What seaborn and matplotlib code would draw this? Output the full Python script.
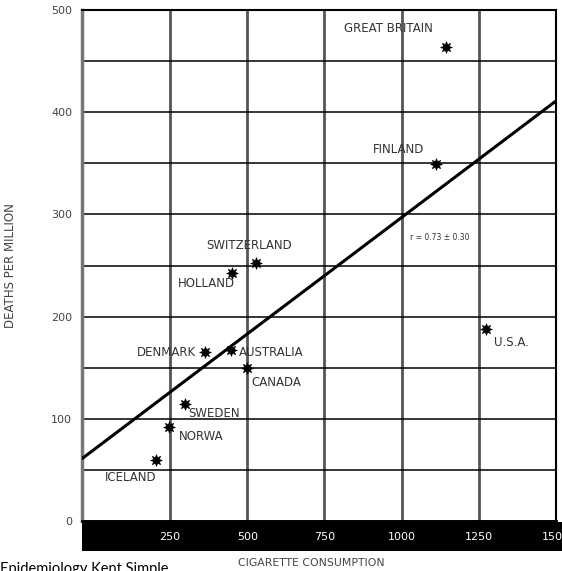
import matplotlib
matplotlib.use("Agg")
import matplotlib.pyplot as plt
import seaborn as sns
import pandas as pd
from matplotlib.patches import Rectangle

# data
countries = ['ICELAND', 'NORWA', 'SWEDEN', 'DENMARK', 'AUSTRALIA', 'HOLLAND',
             'CANADA', 'SWITZERLAND', 'FINLAND', 'GREAT BRITAIN', 'U.S.A.']
consumption = [204, 247, 299, 363, 447, 450, 499, 529, 1110, 1143, 1273]
deaths = [60, 92, 114, 165, 167, 243, 150, 252, 349, 464, 188]

# regression line ends
line_x = [-35, 1500]
line_y = [61, 411]

x_ticks = [250, 500, 750, 1000, 1250, 1500]
y_ticks = [0, 100, 200, 300, 400, 500]

df = pd.DataFrame({'country': countries, 'consumption': consumption, 'deaths': deaths})
line_df = pd.DataFrame({'x': line_x, 'y': line_y})

sns.set_style('white')
plt.rcParams['font.family'] = ['DejaVu Sans']

fig = plt.figure(figsize=(5.62, 5.71), dpi=100)
ax = fig.add_axes([82 / 562, 1 - 521 / 571, (556 - 82) / 562, (521 - 10) / 571])

# 网格
ax.set_xlim(-35, 1500)
ax.set_ylim(0, 500)
ax.set_xticks(x_ticks)
ax.set_yticks(y_ticks)
ax.set_yticks([50, 150, 250, 350, 450], minor=True)
ax.grid(axis='y', which='both', color='black', linewidth=1.1)
ax.grid(axis='x', which='major', color='#555555', linewidth=2)
ax.set_axisbelow(True)

sns.lineplot(data=line_df, x='x', y='y', color='black', linewidth=2.2, ax=ax, zorder=3)
sns.scatterplot(data=df, x='consumption', y='deaths', marker=(8, 1, 0), s=70,
                color='black', edgecolor='black', linewidth=0.5, ax=ax, zorder=4)

# label offsets (pixels) from each point
offsets = {
    'ICELAND': (-25, -18), 'NORWA': (32, -10), 'SWEDEN': (29, -9),
    'DENMARK': (-38, 0), 'AUSTRALIA': (40, -2), 'HOLLAND': (-25, -11),
    'CANADA': (29, -15), 'SWITZERLAND': (-7, 18), 'FINLAND': (-37, 15),
    'GREAT BRITAIN': (-57, 18), 'U.S.A.': (26, -14),
}
for c, xv, yv in zip(countries, consumption, deaths):
    dx, dy = offsets[c]
    ax.annotate(c, (xv, yv), xytext=(dx * 0.72, dy * 0.72), textcoords='offset points',
                ha='center', va='center', fontsize=8.5, color='#333333', zorder=5)

ax.text(1123, 277, 'r = 0.73 \u00b1 0.30', fontsize=5.5, color='#333333', ha='center', va='center')

for s in ['top', 'right']:
    ax.spines[s].set_color('black')
    ax.spines[s].set_linewidth(1.5)
ax.spines['left'].set_color('#777777')
ax.spines['left'].set_linewidth(2.5)
ax.spines['bottom'].set_color('black')
ax.spines['bottom'].set_linewidth(2)

ax.tick_params(axis='x', length=0, pad=8, labelsize=8, labelcolor='white')
ax.tick_params(axis='y', length=0, pad=7, labelsize=8, labelcolor='#444444')
ax.set_xlabel('')
ax.set_ylabel('DEATHS PER MILLION', fontsize=8.5, color='#444444')
ax.yaxis.set_label_coords(-0.137, 0.5)

# black strip under the x axis
band = Rectangle((82 / 562, 1 - 551 / 571), 1, 29 / 571, transform=fig.transFigure,
                 facecolor='black', edgecolor='none', zorder=-1)
fig.add_artist(band)

fig.text(311 / 562, 1 - 563 / 571, 'CIGARETTE CONSUMPTION', fontsize=7.8, color='#444444',
         ha='center', va='center')
fig.text(0.0, 1 - 562 / 571, 'Epidemiology Kent Simple', fontsize=10.5, color='black',
         ha='left', va='top', family=['Lato', 'DejaVu Sans'])

fig.savefig('out.png', dpi=100)
plt.close()
